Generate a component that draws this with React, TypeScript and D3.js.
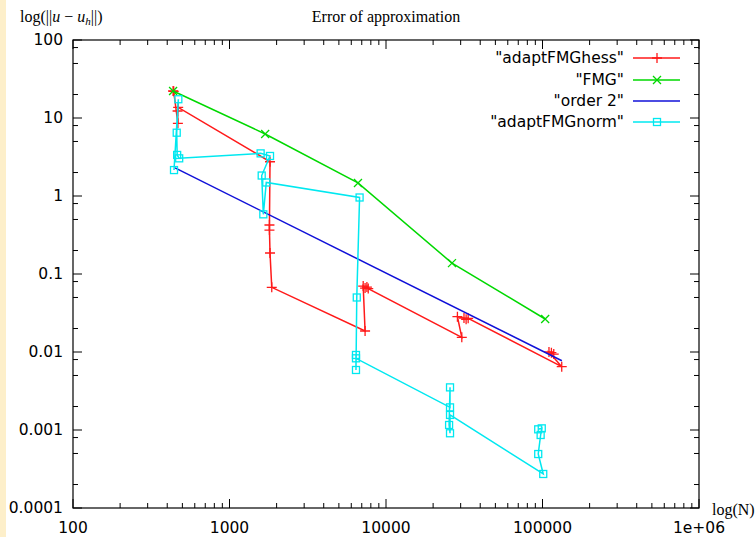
import React from 'react';
import * as d3 from 'd3';

// values (log-log plot)
const hessN = [436, 440, 468, 466, 470, 1815, 1800, 1800, 1815, 1862, 7350, 7150, 7350, 7550, 7700, 30500, 28600, 31500, 32500, 33500, 132700, 110000, 114000, 118000];
const hessErr = [22.2, 22.0, 8.55, 12.3, 13.7, 2.75, 0.425, 0.366, 0.186, 0.0675, 0.0186, 0.07, 0.066, 0.068, 0.065, 0.0154, 0.0284, 0.0272, 0.0262, 0.027, 0.00649, 0.01, 0.0098, 0.0094];

const fmgN = [436, 1690, 6620, 26400, 104000];
const fmgErr = [22.2, 6.24, 1.47, 0.138, 0.0265];

const order2N = [449, 133000];
const order2Err = [2.29, 0.00773];

const normN = [442, 471, 460, 463, 477, 1581, 1815, 1606, 1645, 1718, 6780, 6505, 6430, 6430, 6430, 25650, 25650, 25300, 25650, 25650, 101100, 93900, 97300, 98900, 93900];
const normErr = [2.15, 17.4, 6.48, 3.36, 3.04, 3.52, 3.26, 1.83, 0.582, 1.49, 0.957, 0.05, 0.00588, 0.00916, 0.0083, 0.00195, 0.00352, 0.00116, 0.000908, 0.00156, 0.000273, 0.000492, 0.000863, 0.00105, 0.00102];

const xTickLabels = ['100', '1000', '10000', '100000', '1e+06'];
const yTickLabels = ['0.0001', '0.001', '0.01', '0.1', '1', '10', '100'];

const W = 755, H = 537;
const left = 73, right = 699, top = 40, bottom = 508;

type Series = { name: string; color: string; marker: string; n: number[]; e: number[] };
const series: Series[] = [
  { name: '"adaptFMGhess"', color: '#ff1a1a', marker: 'plus', n: hessN, e: hessErr },
  { name: '"FMG"', color: '#00d800', marker: 'cross', n: fmgN, e: fmgErr },
  { name: '"order 2"', color: '#1010d8', marker: 'none', n: order2N, e: order2Err },
  { name: '"adaptFMGnorm"', color: '#00e8f0', marker: 'square', n: normN, e: normErr },
];

function Marker({ kind, x, y, color }: { kind: string; x: number; y: number; color: string }) {
  if (kind === 'plus') {
    return <path d={`M${x - 5},${y}H${x + 5}M${x},${y - 5}V${y + 5}`} stroke={color} strokeWidth={1.3} fill="none" />;
  }
  if (kind === 'cross') {
    return <path d={`M${x - 4},${y - 4}L${x + 4},${y + 4}M${x - 4},${y + 4}L${x + 4},${y - 4}`} stroke={color} strokeWidth={1.3} fill="none" />;
  }
  if (kind === 'square') {
    return <rect x={x - 3.5} y={y - 3.5} width={7} height={7} stroke={color} strokeWidth={1.3} fill="none" />;
  }
  return null;
}

export default function App() {
  const x = d3.scaleLog().domain([100, 1e6]).range([left, right]);
  const y = d3.scaleLog().domain([1e-4, 100]).range([bottom, top]);

  const xMajor = [2, 3, 4, 5, 6].map(k => Math.pow(10, k));
  const yMajor = [-4, -3, -2, -1, 0, 1, 2].map(k => Math.pow(10, k));
  const xMinor: number[] = [];
  [2, 3, 4, 5].forEach(k => [2, 3, 4, 5, 6, 7, 8, 9].forEach(m => xMinor.push(m * Math.pow(10, k))));
  const yMinor: number[] = [];
  [-4, -3, -2, -1, 0, 1].forEach(k => [2, 5, 8].forEach(m => yMinor.push(m * Math.pow(10, k))));

  const majorLen = 9, minorLen = 5;
  const tickColor = '#000';

  const line = d3.line<[number, number]>().x(d => x(d[0])).y(d => y(d[1]));

  const sans = 'DejaVu Sans, sans-serif';
  const serif = 'Liberation Serif, Times New Roman, serif';

  const legendRows = [58, 80, 101, 122];

  return (
    <svg width={W} height={H} style={{ position: 'absolute', left: 0, top: 0, background: '#fff' }}>
      <rect x={0} y={0} width={6} height={H} fill="#fdefca" />

      {/* titles */}
      <text x={386} y={22} textAnchor="middle" fontFamily={serif} fontSize={16}>Error of approximation</text>
      <text x={20} y={22} fontFamily={serif} fontSize={16}>
        log(||<tspan fontStyle="italic">u</tspan> − <tspan fontStyle="italic">u</tspan>
        <tspan fontStyle="italic" fontSize={11} dy={3}>h</tspan>
        <tspan dy={-3}>||)</tspan>
      </text>
      <text x={712} y={515} fontFamily={serif} fontSize={16}>log(N)</text>

      {/* ticks */}
      <g stroke={tickColor} strokeWidth={1}>
        {xMajor.map((v, i) => (
          <g key={'xm' + i}>
            <line x1={x(v)} x2={x(v)} y1={bottom} y2={bottom - majorLen} />
            <line x1={x(v)} x2={x(v)} y1={top} y2={top + majorLen} />
          </g>
        ))}
        {xMinor.map((v, i) => (
          <g key={'xn' + i}>
            <line x1={x(v)} x2={x(v)} y1={bottom} y2={bottom - minorLen} />
            <line x1={x(v)} x2={x(v)} y1={top} y2={top + minorLen} />
          </g>
        ))}
        {yMajor.map((v, i) => (
          <g key={'ym' + i}>
            <line x1={left} x2={left + majorLen} y1={y(v)} y2={y(v)} />
            <line x1={right} x2={right - majorLen} y1={y(v)} y2={y(v)} />
          </g>
        ))}
        {yMinor.map((v, i) => (
          <g key={'yn' + i}>
            <line x1={left} x2={left + minorLen} y1={y(v)} y2={y(v)} />
            <line x1={right} x2={right - minorLen} y1={y(v)} y2={y(v)} />
          </g>
        ))}
      </g>

      {/* tick labels */}
      {xMajor.map((v, i) => (
        <text key={'xl' + i} x={x(v)} y={533} textAnchor="middle" fontFamily={sans} fontSize={15.5}>{xTickLabels[i]}</text>
      ))}
      {yMajor.map((v, i) => (
        <text key={'yl' + i} x={63} y={y(v)} dy="0.35em" textAnchor="end" fontFamily={sans} fontSize={15.5}>{yTickLabels[i]}</text>
      ))}

      {/* data */}
      {series.map(s => {
        const pts = s.n.map((n, i) => [n, s.e[i]] as [number, number]);
        return (
          <g key={s.name}>
            <path d={line(pts) || ''} stroke={s.color} strokeWidth={1.5} fill="none" />
            {pts.map((p, i) => <Marker key={i} kind={s.marker} x={x(p[0])} y={y(p[1])} color={s.color} />)}
          </g>
        );
      })}

      {/* legend */}
      {series.map((s, i) => (
        <g key={'lg' + i}>
          <text x={624} y={legendRows[i]} dy="0.35em" textAnchor="end" fontFamily={sans} fontSize={15.5}>{s.name}</text>
          <line x1={633} x2={680} y1={legendRows[i]} y2={legendRows[i]} stroke={s.color} strokeWidth={1.5} />
          <Marker kind={s.marker} x={657} y={legendRows[i]} color={s.color} />
        </g>
      ))}

      {/* frame */}
      <rect x={left} y={top} width={right - left} height={bottom - top} fill="none" stroke="#000" strokeWidth={1.2} />
    </svg>
  );
}
